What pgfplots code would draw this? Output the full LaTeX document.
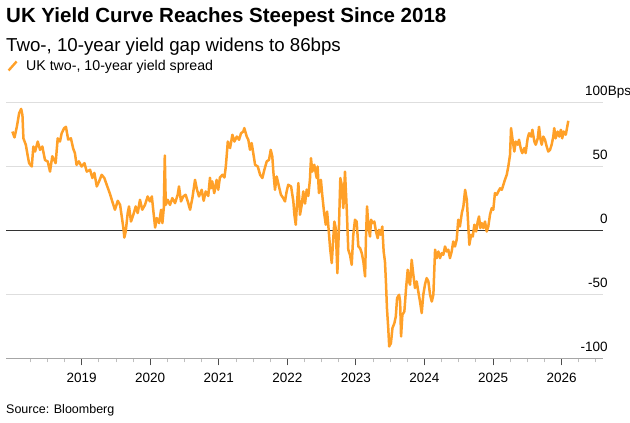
\documentclass[border=0pt]{standalone}
\usepackage{fontspec}
\setmainfont{Liberation Sans}
\usepackage{pgfplots}
\pgfplotsset{compat=1.18}
\definecolor{bbor}{RGB}{255,160,40}
\definecolor{gridc}{RGB}{222,222,222}
\begin{document}
\begin{tikzpicture}[x=1pt,y=1pt]
\path[use as bounding box] (0,0) rectangle (630,423);
\node[anchor=base west, inner sep=0pt, font=\fontsize{20.5}{24}\selectfont\bfseries] at (6,400) {UK Yield Curve Reaches Steepest Since 2018};
\node[anchor=base west, inner sep=0pt, font=\fontsize{18.7}{22}\selectfont] at (6,371) {Two-, 10-year yield gap widens to 86bps};
\node[anchor=base west, inner sep=0pt, font=\fontsize{12.5}{15}\selectfont] at (6,9) {Source: Bloomberg};
\begin{axis}[
  at={(6pt,64.5pt)}, anchor=south west,
  scale only axis, width=597pt, height=256pt,
  xmin=2017.897, xmax=2026.604, ymin=-100, ymax=100,
  axis x line*=bottom, axis y line*=right,
  x axis line style={draw=black!35, line width=1pt},
  y axis line style={draw=none},
  xtick={2019,2020,2021,2022,2023,2024,2025,2026},
  xticklabels={2019,2020,2021,2022,2023,2024,2025,2026},
  minor xtick={2018.25,2018.5,2018.75,2019.25,2019.5,2019.75,2020.25,2020.5,2020.75,2021.25,2021.5,2021.75,2022.25,2022.5,2022.75,2023.25,2023.5,2023.75,2024.25,2024.5,2024.75,2025.25,2025.5,2025.75,2026.25,2026.5},
  tick align=outside,
  major tick length=7pt, minor tick length=4pt,
  xtick style={draw=black!70, line width=0.8pt},
  minor x tick style={draw=black!25, line width=0.8pt},
  ytick={-100,-50,0,50,100},
  yticklabels={-100,-50,0,50,100\rlap{Bps}},
  ytick style={draw=none},
  ymajorgrids,
  major grid style={draw=gridc, line width=1pt},
  extra y ticks={0}, extra y tick labels={},
  extra y tick style={grid=major, major grid style={draw=black!80, line width=1.3pt}},
  /pgf/number format/assume math mode=true,
  xticklabel style={anchor=base, inner sep=0pt, yshift=-17pt, font=\fontsize{13.5}{16}\selectfont},
  yticklabel style={anchor=base east, inner sep=0pt, xshift=-2pt, yshift=6.7pt, font=\fontsize{13.5}{16}\selectfont},
  legend style={at={(axis description cs:0.002,1.1426)}, anchor=west, draw=none, fill=none, inner sep=0pt, font=\fontsize{14.2}{17}\selectfont},
  legend cell align=left,
  legend image code/.code={\path[draw=none, fill=none] (0pt,0pt) -- (16pt,0pt); \draw[#1, line width=2.4pt] (0.5pt,-4.5pt) -- (8.5pt,4.5pt);},
]
\addplot[bbor, line width=2.5pt, line join=round] coordinates {
(2017.990,77.3) (2018.021,72.7) (2018.055,81) (2018.089,91.7) (2018.118,95) (2018.137,90) (2018.151,72) (2018.186,67) (2018.215,58) (2018.234,52.6) (2018.273,50) (2018.296,65.6) (2018.321,61.7) (2018.360,69.5) (2018.394,63) (2018.427,65.6) (2018.466,55) (2018.505,54) (2018.539,46) (2018.572,58) (2018.601,55) (2018.621,52.6) (2018.651,72) (2018.684,69.5) (2018.709,76) (2018.746,80) (2018.771,81) (2018.804,71) (2018.844,72) (2018.877,64) (2018.902,60.5) (2018.926,51.3) (2018.960,54) (2018.999,50)
(2019.041,52.6) (2019.075,46) (2019.123,47.4) (2019.157,41) (2019.186,45) (2019.221,34.4) (2019.254,38.3) (2019.293,43.5) (2019.331,41) (2019.366,35.7) (2019.414,28.5) (2019.447,22.7) (2019.486,16.2) (2019.527,23.2) (2019.561,20) (2019.585,11) (2019.609,1.9) (2019.623,-5.5) (2019.643,-0.8) (2019.672,13.6) (2019.691,18.8) (2019.720,7) (2019.754,12.3) (2019.789,18.8) (2019.818,13.6) (2019.851,24) (2019.884,16.2) (2019.924,20) (2019.963,26.6) (2019.996,22.7)
(2020.024,26.6) (2020.047,14.8) (2020.072,2.3) (2020.096,9.7) (2020.130,5.8) (2020.159,16.2) (2020.178,5.8) (2020.198,17.5) (2020.213,58.6) (2020.227,20) (2020.256,24) (2020.289,20) (2020.323,25.3) (2020.362,21.4) (2020.401,27.9) (2020.420,34.4) (2020.449,22.7) (2020.482,26.6) (2020.517,27.9) (2020.548,22.7) (2020.582,16.2) (2020.615,25.3) (2020.654,39.6) (2020.683,31.8) (2020.712,26.6) (2020.751,31.8) (2020.780,23.2) (2020.810,30.5) (2020.847,27) (2020.872,41.2) (2020.887,33) (2020.905,38.3) (2020.934,29.2) (2020.969,39.6) (2020.992,31.8)
(2021.017,41.4) (2021.053,43.5) (2021.083,41.4) (2021.103,50) (2021.132,69.5) (2021.165,64.4) (2021.199,74.8) (2021.228,69.5) (2021.263,73.4) (2021.296,70.9) (2021.325,76) (2021.358,77.3) (2021.373,80) (2021.408,73.4) (2021.431,70.9) (2021.456,63) (2021.480,68.3) (2021.503,60.5) (2021.530,51.3) (2021.569,50) (2021.603,43.5) (2021.636,41) (2021.665,47.4) (2021.700,54) (2021.733,55.2) (2021.758,63) (2021.781,57.8) (2021.796,46) (2021.820,31.8) (2021.845,42.2) (2021.878,34.4) (2021.907,27.9) (2021.941,25.3) (2021.966,22.7) (2021.990,30.5)
(2022.013,35.7) (2022.055,34.4) (2022.088,22.7) (2022.103,12.3) (2022.123,4.5) (2022.137,17.5) (2022.161,37) (2022.185,12.3) (2022.210,20) (2022.233,30.5) (2022.258,21) (2022.283,32) (2022.306,27) (2022.330,40) (2022.345,56.5) (2022.364,46) (2022.393,51.3) (2022.428,41) (2022.442,50) (2022.461,29.2) (2022.490,39.6) (2022.509,27.9) (2022.537,13.6) (2022.561,4.5) (2022.580,14.8) (2022.599,3.1) (2022.624,-13.8) (2022.648,-25.5) (2022.672,-4.7) (2022.686,7) (2022.706,1.9) (2022.730,-33.3) (2022.754,4.5) (2022.773,41) (2022.793,35.7) (2022.817,17.5) (2022.841,46) (2022.866,17.5) (2022.889,-15) (2022.914,-19) (2022.939,-26.8) (2022.962,-3.4) (2022.987,8.4)
(2023.011,7) (2023.036,-12.5) (2023.061,-13.8) (2023.086,-17.7) (2023.109,-24.2) (2023.134,-35.9) (2023.148,-3.4) (2023.163,18.8) (2023.182,3.1) (2023.206,-4.7) (2023.221,8.4) (2023.245,5.8) (2023.269,7) (2023.293,-0.8) (2023.318,-6) (2023.337,0.5) (2023.362,-3.4) (2023.385,3.1) (2023.405,-16.4) (2023.424,-24.2) (2023.438,-39.8) (2023.453,-60.6) (2023.472,-76.3) (2023.486,-90.6) (2023.511,-88) (2023.533,-76.3) (2023.562,-72.3) (2023.582,-67.2) (2023.601,-52.8) (2023.630,-50.2) (2023.645,-55.5) (2023.659,-82.8) (2023.678,-65.9) (2023.707,-63.3) (2023.732,-45) (2023.756,-30.7) (2023.775,-39.8) (2023.790,-42.4) (2023.814,-22.9) (2023.838,-34.6) (2023.862,-45) (2023.887,-39.8) (2023.910,-47.7) (2023.935,-55.5) (2023.960,-64.5) (2023.983,-50.2)
(2024.007,-42.4) (2024.032,-37.2) (2024.057,-39.8) (2024.082,-50.2) (2024.107,-55.5) (2024.130,-50.2) (2024.155,-15) (2024.179,-21.6) (2024.203,-16.4) (2024.227,-21.6) (2024.252,-17.7) (2024.275,-19) (2024.300,-12.5) (2024.324,-16.4) (2024.348,-15) (2024.372,-21.6) (2024.397,-16.4) (2024.420,-8.6) (2024.445,-12.5) (2024.470,-7.3) (2024.493,8.4) (2024.517,3.1) (2024.545,13.6) (2024.568,18.8) (2024.593,31.8) (2024.618,24) (2024.641,1.9) (2024.655,-11.2) (2024.680,-3.4) (2024.705,-4.7) (2024.728,4.5) (2024.753,-0.8) (2024.777,7) (2024.796,11) (2024.815,1.9) (2024.835,5.8) (2024.859,1.9) (2024.883,7) (2024.908,-0.8) (2024.931,3.1) (2024.956,12.3) (2024.981,17.5)
(2025.004,16.2) (2025.028,29.2) (2025.055,27.9) (2025.078,30.5) (2025.103,33) (2025.128,31.8) (2025.151,35.7) (2025.176,40) (2025.200,43.5) (2025.223,50) (2025.248,59) (2025.263,80) (2025.282,72) (2025.311,61.7) (2025.331,69.5) (2025.360,67) (2025.379,70.9) (2025.408,63) (2025.427,60.5) (2025.456,64.4) (2025.476,60.5) (2025.505,72) (2025.526,76) (2025.555,73.4) (2025.574,78.7) (2025.603,69.5) (2025.623,67) (2025.652,72) (2025.671,81) (2025.690,72) (2025.710,67) (2025.733,73.4) (2025.758,70.9) (2025.783,65.6) (2025.806,61.7) (2025.831,63) (2025.855,67) (2025.879,73.4) (2025.893,80) (2025.913,72) (2025.942,77.3) (2025.966,73.4) (2025.990,78.7)
(2026.009,72) (2026.030,77.3) (2026.061,74.8) (2026.079,80) (2026.098,85.7)
};
\addlegendentry{UK two-, 10-year yield spread}
\end{axis}
\end{tikzpicture}
\end{document}
